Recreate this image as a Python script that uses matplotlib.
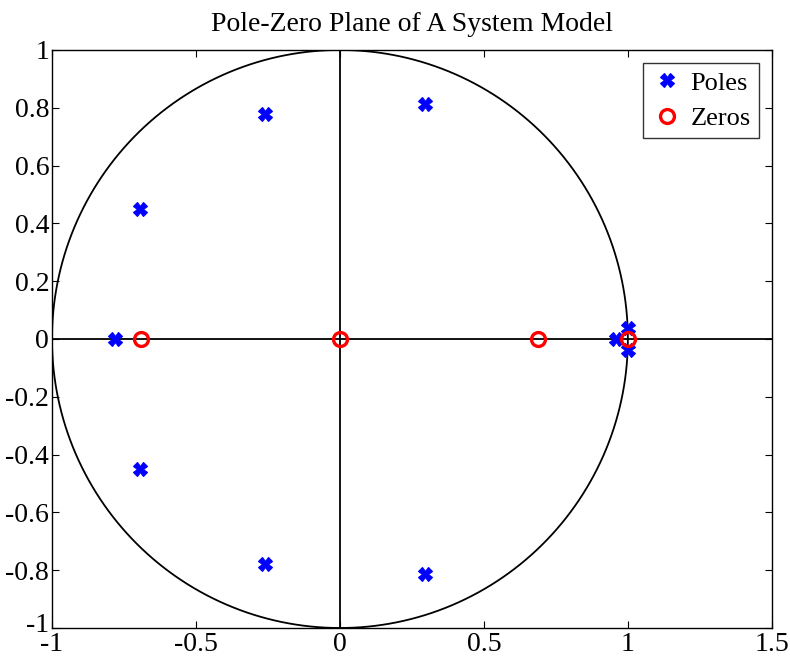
import numpy as np
import matplotlib
matplotlib.use("Agg")
import matplotlib.pyplot as plt
import matplotlib.transforms as mtransforms

plt.rcParams['font.family'] = ['Liberation Serif', 'DejaVu Serif']

# Pole and zero locations (real, imaginary)
pole_re = [-0.78, -0.695, -0.695, -0.26, -0.26, 0.295, 0.295, 0.958, 1.0, 1.0]
pole_im = [0.0, 0.45, -0.45, 0.78, -0.78, 0.812, -0.812, 0.0, 0.037, -0.037]
zero_re = [-0.69, 0.0, 0.6875, 1.0]
zero_im = [0.0, 0.0, 0.0, 0.0]

xticks = [-1, -0.5, 0, 0.5, 1, 1.5]
yticks = [-1, -0.8, -0.6, -0.4, -0.2, 0, 0.2, 0.4, 0.6, 0.8, 1]

fig = plt.figure(figsize=(7.9, 6.56), dpi=100)
ax = fig.add_axes([0.0658, 0.0427, 0.9112, 0.8811])

# unit circle and real/imaginary axes
t = np.linspace(0, 2 * np.pi, 500)
ax.plot(np.cos(t), np.sin(t), color='black', lw=1.3)
ax.axhline(0, color='black', lw=1.3)
ax.axvline(0, color='black', lw=1.3)

ax.plot(pole_re, pole_im, linestyle='none', marker='X', markersize=10,
        color='blue', markeredgewidth=0.8, label='Poles')
ax.plot(zero_re, zero_im, linestyle='none', marker='o', markersize=10,
        markerfacecolor='none', markeredgecolor='red', markeredgewidth=2.4,
        label='Zeros')

ax.set_xlim(-1, 1.5)
ax.set_ylim(-1, 1)
ax.set_xticks(xticks)
ax.set_yticks(yticks)
ax.set_xticklabels([f"{v:g}" for v in xticks])
ax.set_yticklabels([f"{v:g}" for v in yticks])
ax.tick_params(direction='in', top=True, right=True, labelsize=20, length=5)
ax.tick_params(axis='x', pad=3)
ax.tick_params(axis='y', pad=2)
for s in ax.spines.values():
    s.set_linewidth(1.0)

# nudge the lowest y label up so it clears the first x label
lowest = ax.get_yticklabels()[0]
lowest.set_transform(lowest.get_transform() +
                     mtransforms.ScaledTranslation(0, 4 / 72, fig.dpi_scale_trans))

ax.set_title('Pole-Zero Plane of A System Model', fontsize=20, pad=14)

leg = ax.legend(loc='upper right', fontsize=19, frameon=True, fancybox=False,
                edgecolor='black', handletextpad=0.3, borderpad=0.3,
                labelspacing=0.45, handlelength=1.2, borderaxespad=0.5)
leg.get_frame().set_linewidth(1.0)

fig.savefig('out.png', dpi=100)
